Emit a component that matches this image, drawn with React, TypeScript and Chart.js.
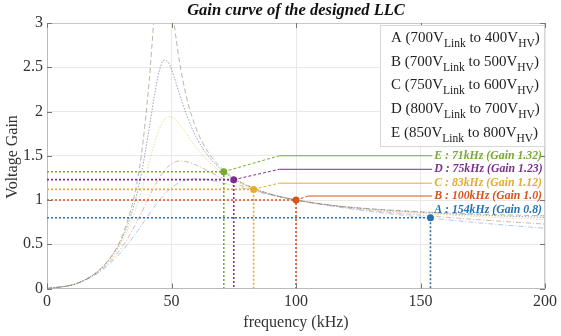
import React, { useEffect, useRef } from 'react';
import { Chart, registerables } from 'chart.js';

Chart.register(...registerables);

// ---- data ----
const FREQ_KHZ = [0, 10, 15, 20, 25, 30, 35, 38, 41, 43, 45, 47, 49, 51, 53, 56, 60, 65, 71, 75, 83, 90, 100, 115, 130, 154, 175, 200];
const GAIN_CURVE_1 = [0, 0.040, 0.095, 0.186, 0.333, 0.581, 1.04, 1.53, 2.331, 3.064, 3.728, 3.863, 3.492, 3.008, 2.6, 2.164, 1.8, 1.529, 1.336, 1.25, 1.133, 1.065, 1, 0.939, 0.901, 0.862, 0.840, 0.821];
const GAIN_CURVE_2 = [0, 0.040, 0.095, 0.184, 0.326, 0.555, 0.947, 1.313, 1.8, 2.155, 2.447, 2.58, 2.541, 2.395, 2.216, 1.965, 1.707, 1.488, 1.319, 1.24, 1.130, 1.064, 1, 0.938, 0.898, 0.855, 0.828, 0.803];
const GAIN_CURVE_3 = [0, 0.040, 0.094, 0.181, 0.315, 0.522, 0.844, 1.109, 1.418, 1.622, 1.793, 1.903, 1.942, 1.922, 1.863, 1.746, 1.59, 1.432, 1.294, 1.225, 1.125, 1.063, 1, 0.937, 0.893, 0.843, 0.810, 0.777];
const GAIN_CURVE_4 = [0, 0.039, 0.092, 0.174, 0.294, 0.464, 0.696, 0.861, 1.036, 1.147, 1.247, 1.329, 1.388, 1.424, 1.44, 1.433, 1.393, 1.323, 1.241, 1.193, 1.114, 1.060, 1, 0.933, 0.883, 0.819, 0.774, 0.727];
const GAIN_CURVE_5 = [0, 0.039, 0.090, 0.167, 0.275, 0.418, 0.596, 0.716, 0.839, 0.919, 0.993, 1.059, 1.115, 1.161, 1.195, 1.227, 1.24, 1.227, 1.19, 1.161, 1.103, 1.057, 1, 0.929, 0.871, 0.795, 0.738, 0.681];

const LEGEND_IDS = ['A', 'B', 'C', 'D', 'E'];
const LEGEND_LINK_V = ['700', '700', '750', '800', '850'];
const LEGEND_HV_V = ['400', '500', '600', '700', '800'];

const OP_NAMES = ['A', 'B', 'C', 'D', 'E'];
const OP_FREQ = [154, 100, 83, 75, 71];
const OP_GAIN = [0.8, 1.0, 1.12, 1.23, 1.32];
const OP_GAIN_TEXT = ['0.8', '1.0', '1.12', '1.23', '1.32'];

const X_TICKS = [0, 50, 100, 150, 200];
const Y_TICKS = [0, 0.5, 1, 1.5, 2, 2.5, 3];

// ---- styles / layout ----
const SERIF = "'Liberation Serif', 'Times New Roman', serif";
const OP_COLORS = ['#2472b0', '#d95319', '#e2ae2c', '#7e2f8e', '#77ac30'];
const CURVE_STYLES = [
  { color: 'rgba(130,140,105,0.6)', dash: [5, 3] },
  { color: 'rgba(80,80,150,0.55)', dash: [1.5, 1.5] },
  { color: 'rgba(225,195,90,0.6)', dash: [1.5, 1.5] },
  { color: 'rgba(185,120,110,0.55)', dash: [5, 2, 1, 2] },
  { color: 'rgba(110,165,215,0.6)', dash: [5, 2, 1, 2] },
];
const LABEL_POS_GAIN = [0.885, 1.045, 1.19, 1.347, 1.5];
const LEADER_BEND_F = [null, 105, 93.3, 93.3, 93.3];
const LABEL_POS_F = 155.5;

const overlay = {
  id: 'overlay',
  afterDatasetsDraw(chart: any) {
    const { ctx, chartArea: a, scales } = chart;
    const x = scales.x;
    const y = scales.y;
    ctx.save();
    // top & right border
    ctx.strokeStyle = '#c8c8c8';
    ctx.lineWidth = 1;
    ctx.beginPath();
    ctx.moveTo(a.left, a.top + 0.5);
    ctx.lineTo(a.right - 0.5, a.top + 0.5);
    ctx.lineTo(a.right - 0.5, a.bottom);
    ctx.stroke();
    // inward ticks
    ctx.strokeStyle = '#777';
    ctx.beginPath();
    X_TICKS.forEach((v) => {
      const px = Math.round(x.getPixelForValue(v)) + 0.5;
      ctx.moveTo(px, a.bottom);
      ctx.lineTo(px, a.bottom - 5);
      ctx.moveTo(px, a.top);
      ctx.lineTo(px, a.top + 5);
    });
    Y_TICKS.forEach((v) => {
      const py = Math.round(y.getPixelForValue(v)) + 0.5;
      ctx.moveTo(a.left, py);
      ctx.lineTo(a.left + 5, py);
      ctx.moveTo(a.right, py);
      ctx.lineTo(a.right - 5, py);
    });
    ctx.stroke();

    // leaders + labels
    const lx = x.getPixelForValue(LABEL_POS_F);
    OP_NAMES.forEach((n, i) => {
      const px = x.getPixelForValue(OP_FREQ[i]);
      const py = y.getPixelForValue(OP_GAIN[i]);
      const ly = y.getPixelForValue(LABEL_POS_GAIN[i]);
      const bf = LEADER_BEND_F[i];
      ctx.strokeStyle = OP_COLORS[i];
      ctx.lineWidth = 1;
      if (bf !== null) {
        const bx = x.getPixelForValue(bf);
        ctx.setLineDash([3, 2]);
        ctx.beginPath();
        ctx.moveTo(px, py);
        ctx.lineTo(bx, ly);
        ctx.stroke();
        ctx.setLineDash([]);
        ctx.beginPath();
        ctx.moveTo(bx, ly);
        ctx.lineTo(lx - 2, ly);
        ctx.stroke();
      }
      ctx.fillStyle = OP_COLORS[i];
      ctx.font = `italic bold 11.8px ${SERIF}`;
      ctx.textAlign = 'left';
      ctx.textBaseline = 'middle';
      ctx.fillText(`${n} : ${OP_FREQ[i]}kHz (Gain ${OP_GAIN_TEXT[i]})`, lx, ly);
    });

    // legend box
    const bx0 = 380, by0 = 25, bw = a.right - 380, bh = 122;
    ctx.fillStyle = '#ffffff';
    ctx.fillRect(bx0, by0, bw, bh);
    ctx.strokeStyle = '#d8d8d8';
    ctx.strokeRect(bx0 + 0.5, by0 + 0.5, bw - 1, bh - 1);
    ctx.fillStyle = '#222';
    ctx.textBaseline = 'alphabetic';
    LEGEND_IDS.forEach((id, i) => {
      const base = by0 + 17 + i * 23.7;
      let cx = 391;
      const big = `15px ${SERIF}`;
      const small = `11.5px ${SERIF}`;
      const parts: [string, string, number][] = [
        [`${id} (${LEGEND_LINK_V[i]}V`, big, 0],
        ['Link', small, 5],
        [` to ${LEGEND_HV_V[i]}V`, big, 0],
        ['HV', small, 5],
        [')', big, 0],
      ];
      parts.forEach(([t, f, dy]) => {
        ctx.font = f;
        ctx.fillText(t, cx, base + dy);
        cx += ctx.measureText(t).width;
      });
    });
    ctx.restore();
  },
  afterDraw(chart: any) {
    const { ctx, chartArea: a } = chart;
    ctx.save();
    ctx.fillStyle = '#111';
    ctx.textAlign = 'center';
    ctx.textBaseline = 'middle';
    ctx.font = `italic bold 16.5px ${SERIF}`;
    ctx.fillText('Gain curve of the designed LLC', (a.left + a.right) / 2, 11);
    ctx.fillStyle = '#333';
    ctx.font = `16px ${SERIF}`;
    ctx.fillText('frequency (kHz)', (a.left + a.right) / 2, 323);
    ctx.translate(13, 157);
    ctx.rotate(-Math.PI / 2);
    ctx.fillText('Voltage Gain', 0, 0);
    ctx.restore();
  },
};

export default function App() {
  const ref = useRef<HTMLCanvasElement>(null);
  useEffect(() => {
    if (!ref.current) return;
    const curves = [GAIN_CURVE_1, GAIN_CURVE_2, GAIN_CURVE_3, GAIN_CURVE_4, GAIN_CURVE_5];
    const datasets: any[] = curves.map((g, i) => ({
      data: FREQ_KHZ.map((f, j) => ({ x: f, y: g[j] })),
      borderColor: CURVE_STYLES[i].color,
      borderDash: CURVE_STYLES[i].dash,
      borderWidth: 1,
      pointRadius: 0,
      cubicInterpolationMode: 'monotone',
      order: 10,
    }));
    OP_NAMES.forEach((_, i) => {
      datasets.push({
        data: [{ x: 0, y: OP_GAIN[i] }, { x: OP_FREQ[i], y: OP_GAIN[i] }, { x: OP_FREQ[i], y: 0 }],
        borderColor: OP_COLORS[i],
        backgroundColor: OP_COLORS[i],
        borderDash: [2, 2],
        borderWidth: 1.6,
        pointRadius: [0, 3.5, 0],
        pointBorderWidth: 0,
        tension: 0,
        order: 1,
      });
    });
    const chart = new Chart(ref.current, {
      type: 'line',
      data: { datasets },
      options: {
        animation: false,
        responsive: false,
        layout: { padding: { top: 23, right: 15, left: 0, bottom: 0 } },
        plugins: { legend: { display: false }, tooltip: { enabled: false }, title: { display: false } },
        scales: {
          x: {
            type: 'linear',
            min: 0,
            max: 200,
            afterFit: (s: any) => { s.height = 47.5; },
            afterBuildTicks: (s: any) => { s.ticks = X_TICKS.map((v) => ({ value: v })); },
            ticks: { color: '#333', font: { family: SERIF, size: 16 }, padding: 4, maxRotation: 0, callback: (v: any) => String(v) },
            grid: { color: '#e8e8e8', drawTicks: false },
            border: { color: '#bbb' },
          },
          y: {
            type: 'linear',
            min: 0,
            max: 3,
            afterFit: (s: any) => { s.width = 47; },
            afterBuildTicks: (s: any) => { s.ticks = Y_TICKS.map((v) => ({ value: v })); },
            ticks: { color: '#333', font: { family: SERIF, size: 16 }, padding: 4, callback: (v: any) => String(v) },
            grid: { color: '#e8e8e8', drawTicks: false },
            border: { color: '#bbb' },
          },
        },
      },
      plugins: [overlay],
    });
    return () => chart.destroy();
  }, []);
  return (
    <div style={{ position: 'absolute', left: 0, top: 0, width: 561, height: 336, background: '#fff' }}>
      <canvas ref={ref} width={561} height={336} />
    </div>
  );
}
